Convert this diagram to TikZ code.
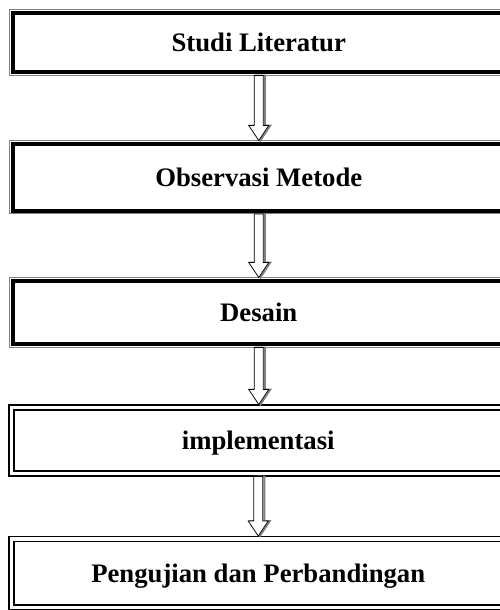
\documentclass[tikz,border=0pt]{standalone}
\usepackage{fontspec}
\setmainfont{Liberation Serif}
\usetikzlibrary{calc}
\newcommand{\flowarrow}[3]{
    \draw[flow, xshift=#3] let \p1=(#1.south), \p2=(#2.north) in
      (\x1-4.5pt,\y1) -- (\x1+4.5pt,\y1) -- (\x1+4.5pt,\y2+15pt) -- (\x1+10pt,\y2+15pt)
      -- (\x1,\y2) -- (\x1-10pt,\y2+15pt) -- (\x1-4.5pt,\y2+15pt) -- cycle;
}

\begin{document}
\begin{tikzpicture}[x=1pt, y=-1pt,
    stage/.style={rectangle, fill=white, draw=black, line width=4pt, outer sep=3.5pt,
        preaction={draw=gray, line width=7.5pt}, preaction={draw=white, line width=5.5pt},
        minimum width=492.5pt, inner sep=2pt, text height=18pt, text depth=0pt,
        font=\bfseries\fontsize{26.7}{30}\selectfont},
    stagedbl/.style={rectangle, fill=white, draw=black, line width=1.4pt, double, double distance=3.3pt,
        outer sep=3pt, minimum width=493.5pt, inner sep=2pt, text height=18pt, text depth=0pt,
        font=\bfseries\fontsize{26.7}{30}\selectfont},
    flow/.style={draw=black, line width=0.8pt, fill=white,
        preaction={draw=gray, line width=1.8pt, transform canvas={xshift=1.6pt}}}
]
\clip (0,0) rectangle (500,610);
\fill[white] (0,0) rectangle (500,610);

\node[stage, minimum height=59pt] (s1) at (258.75,42.5) {Studi Literatur};
\node[stage, minimum height=66.5pt] (s2) at (258.75,177.25) {Observasi Metode};
\node[stage, minimum height=63pt] (s3) at (258.75,312.5) {Desain};
\node[stagedbl, minimum height=66pt] (s4) at (258.25,440.5) {implementasi};
\node[stagedbl, minimum height=68.5pt] (s5) at (258.25,573.25) {Pengujian dan Perbandingan};

\flowarrow{s1}{s2}{-8pt}
\flowarrow{s2}{s3}{-6pt}
\flowarrow{s3}{s4}{-1pt}
\flowarrow{s4}{s5}{1pt}
\end{tikzpicture}
\end{document}
